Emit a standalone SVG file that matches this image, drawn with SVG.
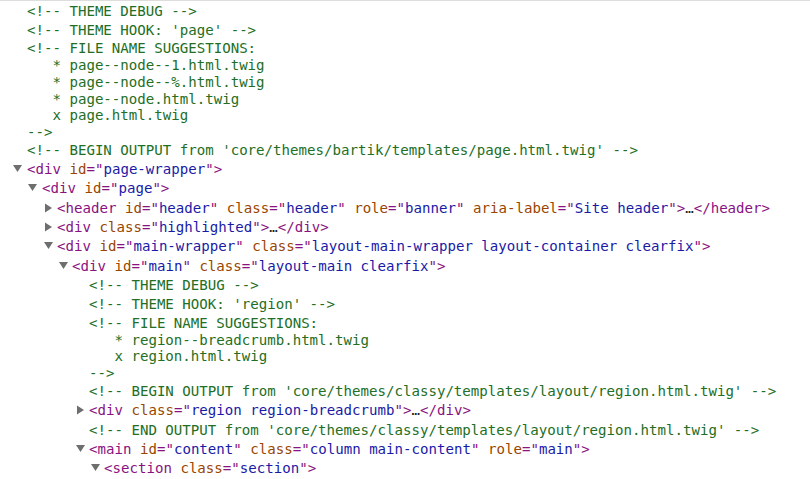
<svg xmlns="http://www.w3.org/2000/svg" width="810" height="479" viewBox="0 0 810 479">
<style>
text{font-family:"DejaVu Sans Mono","Liberation Mono",monospace;font-size:14.1px;white-space:pre}
.c{fill:#236e25}.t{fill:#881280}.a{fill:#994500}.v{fill:#1a1aa6}.e{fill:#222}
.tri{fill:#6e6e6e}
</style>
<rect width="810" height="479" fill="#fff"/>
<line x1="0" y1="0.5" x2="810" y2="0.5" stroke="#ddd"/>
<g id="comments" class="c" xml:space="preserve">
<text x="27" y="16">&lt;!-- THEME DEBUG --&gt;</text>
<text x="27" y="35">&lt;!-- THEME HOOK: 'page' --&gt;</text>
<text x="27" y="53">&lt;!-- FILE NAME SUGGESTIONS:</text>
<text x="27" y="70">   * page--node--1.html.twig</text>
<text x="27" y="87">   * page--node--%.html.twig</text>
<text x="27" y="104">   * page--node.html.twig</text>
<text x="27" y="120">   x page.html.twig</text>
<text x="27" y="137">--&gt;</text>
<text x="27" y="155">&lt;!-- BEGIN OUTPUT from 'core/themes/bartik/templates/page.html.twig' --&gt;</text>
<text x="89" y="290">&lt;!-- THEME DEBUG --&gt;</text>
<text x="89" y="309">&lt;!-- THEME HOOK: 'region' --&gt;</text>
<text x="89" y="328">&lt;!-- FILE NAME SUGGESTIONS:</text>
<text x="89" y="345">   * region--breadcrumb.html.twig</text>
<text x="89" y="361">   x region.html.twig</text>
<text x="89" y="378">--&gt;</text>
<text x="89" y="396">&lt;!-- BEGIN OUTPUT from 'core/themes/classy/templates/layout/region.html.twig' --&gt;</text>
<text x="89" y="435">&lt;!-- END OUTPUT from 'core/themes/classy/templates/layout/region.html.twig' --&gt;</text>
</g>
<g id="triangles" class="tri">
<path d="M13,165 h9 l-4.5,7z"/>
<path d="M28,184 h9 l-4.5,7z"/>
<path d="M45,203.5 v9 l7,-4.5z"/>
<path d="M45,222.5 v9 l7,-4.5z"/>
<path d="M44,242 h9 l-4.5,7z"/>
<path d="M59,262 h9 l-4.5,7z"/>
<path d="M77,405.5 v9 l7,-4.5z"/>
<path d="M76,445 h9 l-4.5,7z"/>
<path d="M91,464 h9 l-4.5,7z"/>
</g>
<g id="tags" xml:space="preserve">
<text x="27" y="174"><tspan class="t">&lt;div</tspan> <tspan class="a">id</tspan><tspan class="t">="</tspan><tspan class="v">page-wrapper</tspan><tspan class="t">"&gt;</tspan></text>
<text x="42" y="193"><tspan class="t">&lt;div</tspan> <tspan class="a">id</tspan><tspan class="t">="</tspan><tspan class="v">page</tspan><tspan class="t">"&gt;</tspan></text>
<text x="57" y="213"><tspan class="t">&lt;header</tspan> <tspan class="a">id</tspan><tspan class="t">="</tspan><tspan class="v">header</tspan><tspan class="t">"</tspan> <tspan class="a">class</tspan><tspan class="t">="</tspan><tspan class="v">header</tspan><tspan class="t">"</tspan> <tspan class="a">role</tspan><tspan class="t">="</tspan><tspan class="v">banner</tspan><tspan class="t">"</tspan> <tspan class="a">aria-label</tspan><tspan class="t">="</tspan><tspan class="v">Site header</tspan><tspan class="t">"&gt;</tspan><tspan class="e">…</tspan><tspan class="t">&lt;/header&gt;</tspan></text>
<text x="57" y="232"><tspan class="t">&lt;div</tspan> <tspan class="a">class</tspan><tspan class="t">="</tspan><tspan class="v">highlighted</tspan><tspan class="t">"&gt;</tspan><tspan class="e">…</tspan><tspan class="t">&lt;/div&gt;</tspan></text>
<text x="57" y="251"><tspan class="t">&lt;div</tspan> <tspan class="a">id</tspan><tspan class="t">="</tspan><tspan class="v">main-wrapper</tspan><tspan class="t">"</tspan> <tspan class="a">class</tspan><tspan class="t">="</tspan><tspan class="v">layout-main-wrapper layout-container clearfix</tspan><tspan class="t">"&gt;</tspan></text>
<text x="72" y="271"><tspan class="t">&lt;div</tspan> <tspan class="a">id</tspan><tspan class="t">="</tspan><tspan class="v">main</tspan><tspan class="t">"</tspan> <tspan class="a">class</tspan><tspan class="t">="</tspan><tspan class="v">layout-main clearfix</tspan><tspan class="t">"&gt;</tspan></text>
<text x="89" y="415"><tspan class="t">&lt;div</tspan> <tspan class="a">class</tspan><tspan class="t">="</tspan><tspan class="v">region region-breadcrumb</tspan><tspan class="t">"&gt;</tspan><tspan class="e">…</tspan><tspan class="t">&lt;/div&gt;</tspan></text>
<text x="89" y="454"><tspan class="t">&lt;main</tspan> <tspan class="a">id</tspan><tspan class="t">="</tspan><tspan class="v">content</tspan><tspan class="t">"</tspan> <tspan class="a">class</tspan><tspan class="t">="</tspan><tspan class="v">column main-content</tspan><tspan class="t">"</tspan> <tspan class="a">role</tspan><tspan class="t">="</tspan><tspan class="v">main</tspan><tspan class="t">"&gt;</tspan></text>
<text x="104" y="473"><tspan class="t">&lt;section</tspan> <tspan class="a">class</tspan><tspan class="t">="</tspan><tspan class="v">section</tspan><tspan class="t">"&gt;</tspan></text>
</g>
</svg>
